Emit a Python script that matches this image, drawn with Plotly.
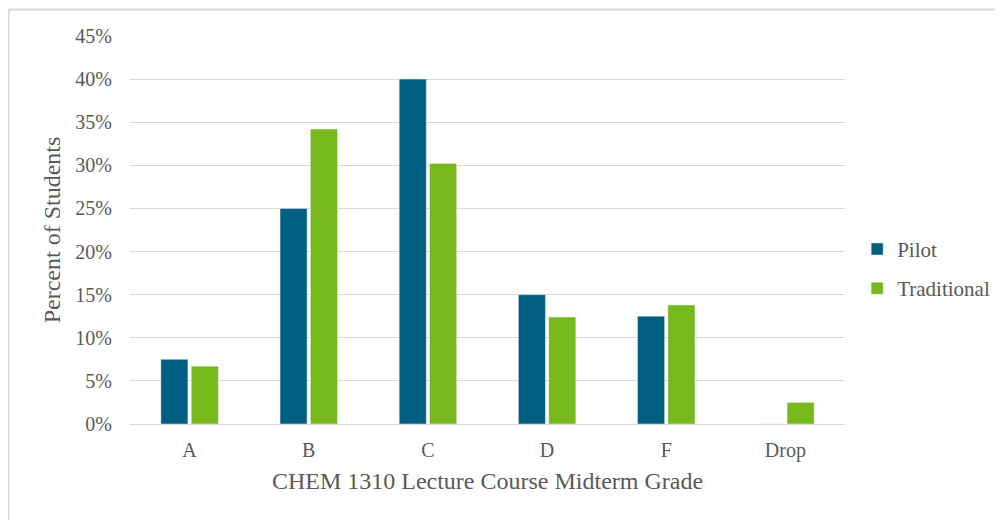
import plotly.graph_objects as go

grades = ["A", "B", "C", "D", "F", "Drop"]
pilot = [7.5, 25.0, 40.0, 15.0, 12.5, 0.0]
traditional = [6.7, 34.2, 30.2, 12.4, 13.8, 2.5]

FONT = "Liberation Serif"
GREY = "#595959"

# page body has an 8px margin, so the figure is sized to fit the window
W, H = 995, 512
L, R, T, B = 122, 158, 28, 96
PW, PH = W - L - R, H - T - B

fig = go.Figure()
fig.add_trace(go.Bar(x=grades, y=pilot, name="Pilot", marker_color="#005E80",
                     legendgroup="p"))
fig.add_trace(go.Bar(x=grades, y=traditional, name="Traditional",
                     marker_color="#77B81B", legendgroup="t"))

fig.update_layout(
    width=W,
    height=H,
    margin=dict(l=L, r=R, t=T, b=B, autoexpand=False),
    paper_bgcolor="white",
    plot_bgcolor="white",
    font=dict(family=FONT, size=20, color=GREY),
    barmode="group",
    bargap=0.49,
    bargroupgap=0.11,
    legend=dict(
        x=1.017, xanchor="left", y=0.40, yanchor="middle",
        font=dict(family=FONT, size=21, color=GREY),
        tracegroupgap=9,
        bgcolor="rgba(0,0,0,0)",
    ),
    xaxis=dict(
        title=dict(text="CHEM 1310 Lecture Course Midterm Grade",
                   font=dict(family=FONT, size=24, color=GREY), standoff=11),
        showgrid=False,
        showline=False,
        ticks="",
        tickfont=dict(family=FONT, size=20, color=GREY),
        ticklabelstandoff=12,
    ),
    yaxis=dict(
        title=dict(text="Percent of Students",
                   font=dict(family=FONT, size=24, color=GREY), standoff=7),
        range=[0, 45],
        dtick=5,
        ticksuffix="%",
        showgrid=True,
        gridcolor="#d9d9d9",
        gridwidth=1,
        zeroline=True,
        zerolinecolor="#d9d9d9",
        zerolinewidth=1,
        showline=False,
        ticks="",
        tickfont=dict(family=FONT, size=20, color=GREY),
        ticklabelstandoff=17,
    ),
)

# light frame around the chart (only top and left edges show)
fig.add_shape(
    type="rect", xref="paper", yref="paper",
    x0=(0.5 - L) / PW, x1=(W + 20 - L) / PW,
    y0=-(B + 20) / PH, y1=(PH + T - 1.5) / PH,
    line=dict(color="#d9d9d9", width=2),
    layer="below",
)

fig.write_html("out.html")
